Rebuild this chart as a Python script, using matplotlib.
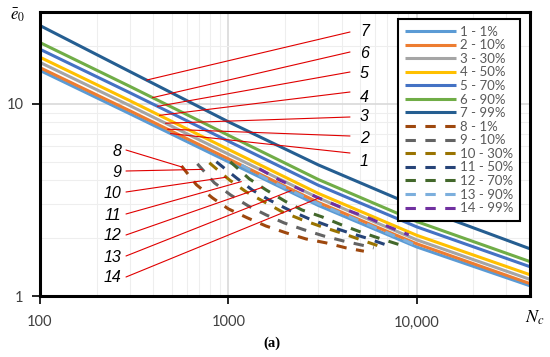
import numpy as np
import matplotlib.pyplot as plt
from matplotlib.ticker import FixedLocator, LogLocator, NullFormatter

plt.rcParams['font.family'] = ['Lato', 'DejaVu Sans']
plt.rcParams['mathtext.fontset'] = 'stix'

# solid curves 1-7, read at fixed N_c
n_solid = [100, 300, 1000, 3000, 10000, 40000]
e1 = [14.9, 8.87, 4.99, 2.96, 1.80, 1.13]
e2 = [15.4, 9.19, 5.17, 3.07, 1.87, 1.16]
e3 = [16.4, 9.77, 5.47, 3.24, 1.96, 1.22]
e4 = [17.45, 10.37, 5.79, 3.42, 2.07, 1.29]
e5 = [19.2, 11.41, 6.39, 3.77, 2.29, 1.42]
e6 = [20.8, 12.31, 6.86, 4.04, 2.44, 1.51]
e7 = [25.5, 14.7, 8.06, 4.81, 2.91, 1.76]

# dashed curves 8-14
n8 = [564, 677, 823, 1000, 1262, 1589, 2028, 2588, 3302, 4210, 5248]
e8 = [4.75, 3.79, 3.24, 2.84, 2.55, 2.31, 2.13, 1.98, 1.89, 1.78, 1.71]
n9 = [685, 843, 1025, 1277, 1589, 1977, 2525, 3222, 4111, 5370, 5918]
e9 = [4.87, 3.88, 3.36, 2.94, 2.64, 2.40, 2.21, 2.05, 1.93, 1.82, 1.78]
n10 = [793, 1012, 1245, 1549, 1932, 2466, 3144, 3963, 5055, 6295, 6687]
e10 = [4.93, 4.02, 3.48, 3.09, 2.74, 2.49, 2.29, 2.13, 1.96, 1.82, 1.80]
n11 = [864, 1102, 1340, 1648, 2101, 2685, 3423, 4266, 5433, 6934, 7551]
e11 = [4.99, 4.12, 3.56, 3.16, 2.80, 2.52, 2.31, 2.15, 2.00, 1.84, 1.80]
n12 = [1025, 1291, 1589, 2028, 2466, 3144, 4011, 5055, 6295, 8226, 8537]
e12 = [4.99, 4.07, 3.56, 3.09, 2.80, 2.58, 2.34, 2.15, 2.00, 1.84, 1.82]
n13 = [1172, 1500, 2000, 3000, 5000, 9645]
e13 = [4.8, 4.19, 3.66, 3.02, 2.45, 1.86]
n14 = [1459, 1862, 2317, 2924, 4531, 5709, 7107, 9078]
e14 = [4.59, 4.02, 3.65, 3.28, 2.74, 2.52, 2.29, 2.08]

labels = ['1 - 1%', '2 - 10%', '3 - 30%', '4 - 50%', '5 - 70%', '6 - 90%', '7 - 99%',
          '8 - 1%', '9 - 10%', '10 - 30%', '11 - 50%', '12 - 70%', '13 - 90%', '14 - 99%']
colors = ['#5B9BD5', '#ED7D31', '#A5A5A5', '#FFC000', '#4472C4', '#70AD47', '#255E91',
          '#9E480E', '#636363', '#997300', '#264478', '#43682B', '#7CAFDD', '#7030A0']

solid = [e1, e2, e3, e4, e5, e6, e7]
dashed = [(n8, e8), (n9, e9), (n10, e10), (n11, e11), (n12, e12), (n13, e13), (n14, e14)]

# where the red callouts touch each curve
lead_solid = [493, 476, 464, 431, 421, 396, 368]
lead_dashed = [571, 728, 975, 1172, 1514, 2154, 3027]

W, H = 550, 357
fig = plt.figure(figsize=(W / 100, H / 100), dpi=100)
ax = fig.add_axes([40 / W, 61 / H, 490 / W, 284 / H])

for i, e in enumerate(solid):
    ax.plot(n_solid, e, color=colors[i], lw=2.2, label=labels[i], solid_capstyle='butt')
for j, (n, e) in enumerate(dashed):
    ax.plot(n, e, color=colors[7 + j], lw=2.2, ls=(0, (3.4, 3.1)), label=labels[7 + j])

ax.set_xscale('log')
ax.set_yscale('log')
ax.set_xlim(100, 40000)
ax.set_ylim(1, 30)
ax.xaxis.set_major_locator(FixedLocator([100, 1000, 10000]))
ax.set_xticklabels(['100', '1000', '10,000'])
ax.yaxis.set_major_locator(FixedLocator([1, 10]))
ax.set_yticklabels(['1', '10'])
for a in (ax.xaxis, ax.yaxis):
    a.set_minor_locator(LogLocator(base=10, subs=np.arange(2, 10)))
    a.set_minor_formatter(NullFormatter())
ax.grid(which='major', color='#d9d9d9', lw=1.2)
ax.grid(which='minor', color='#eeeeee', lw=0.8)
ax.set_axisbelow(True)
ax.tick_params(which='minor', length=0)
ax.tick_params(which='major', length=6, width=1.2, direction='out',
               labelsize=10.5, labelcolor='#404040')
ax.tick_params(axis='x', pad=8)
ax.tick_params(axis='y', pad=6)
for s in ax.spines.values():
    s.set_linewidth(2.2)
    s.set_color('black')

leg = ax.legend(loc='upper right', bbox_to_anchor=(520 / W, 1 - 19 / H),
                bbox_transform=fig.transFigure, borderaxespad=0,
                fancybox=False, edgecolor='black', framealpha=1, fontsize=9.5,
                handlelength=3.9, handletextpad=0.3, labelspacing=0.12, borderpad=0.5)
leg.get_frame().set_linewidth(1.5)
for t in leg.get_texts():
    t.set_color('#595959')

red = '#e00000'
# labels 1-7 on the right
sol_lead_y = [153, 136, 117, 92, 72, 52, 32]
sol_text_y = [162, 139, 117, 97, 74, 53, 32]
for i in range(7):
    nl = lead_solid[i]
    el = 10 ** np.interp(np.log10(nl), np.log10(n_solid), np.log10(solid[i]))
    ax.annotate('', xy=(nl, el), xytext=(350, H - sol_lead_y[i]), textcoords='figure pixels',
                arrowprops=dict(arrowstyle='-', color=red, lw=0.8, shrinkA=0, shrinkB=0),
                zorder=6)
    fig.text(360 / W, 1 - sol_text_y[i] / H, str(i + 1), ha='left', va='center',
             fontsize=11.5, style='italic', family='Liberation Sans')

# labels 8-14 on the left
dash_y = [150, 171, 192, 214, 235, 256, 277]
for j in range(7):
    n, e = dashed[j]
    nl = lead_dashed[j]
    el = 10 ** np.interp(np.log10(nl), np.log10(n), np.log10(e))
    ax.annotate('', xy=(nl, el), xytext=(126, H - dash_y[j]), textcoords='figure pixels',
                arrowprops=dict(arrowstyle='-', color=red, lw=0.8, shrinkA=0, shrinkB=0),
                zorder=6)
    fig.text(121 / W, 1 - (dash_y[j] + 1) / H, str(8 + j), ha='right', va='center',
             fontsize=11.5, style='italic', family='Liberation Sans')

fig.text(18 / W, 1 - 15 / H, r'$\bar{e}_0$', ha='center', va='center', fontsize=12)
fig.text(535 / W, 1 - 318 / H, r'$N_c$', ha='center', va='center', fontsize=13)
fig.text(272 / W, 1 - 343 / H, '(a)', ha='center', va='center', fontsize=10.5,
         fontweight='bold', family='Liberation Serif')

fig.savefig('out.png', dpi=100)
